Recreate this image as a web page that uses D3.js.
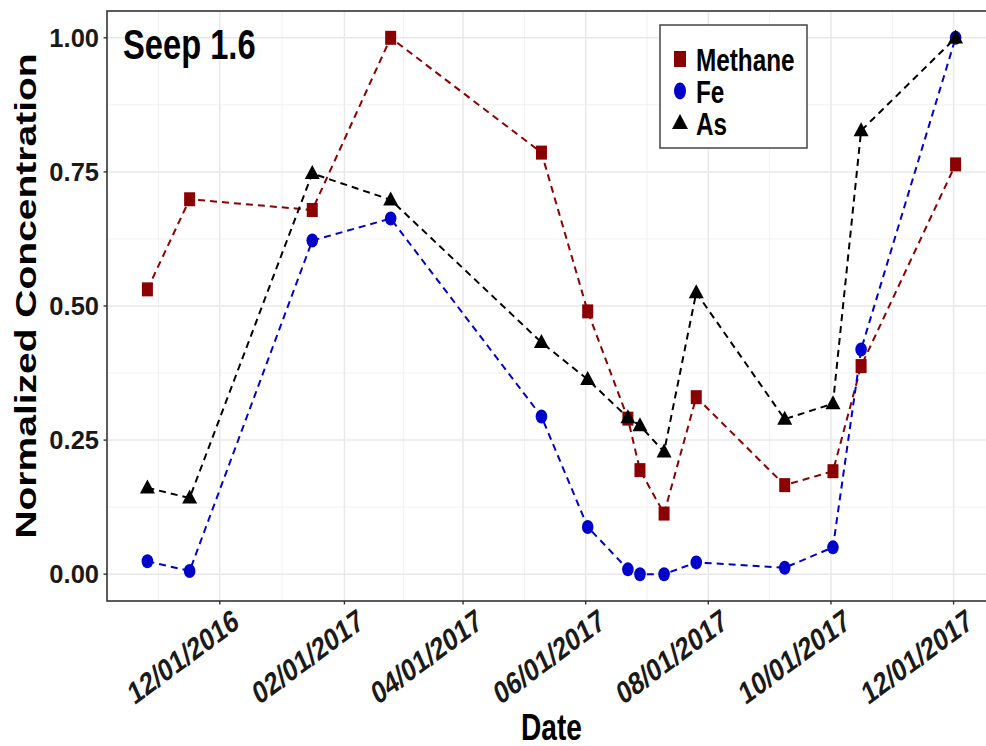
<!DOCTYPE html>
<html>
<head>
<meta charset="utf-8">
<script src="https://cdn.jsdelivr.net/npm/d3@7"></script>
<style>
  html, body { margin: 0; padding: 0; background: #fff; }
  text { font-family: "Liberation Sans", Arial, sans-serif; font-weight: bold; }
</style>
</head>
<body>
<svg id="chart" width="986" height="746"></svg>
<script>
// sampling dates and normalized values
const dates = ["2016-10-26", "2016-11-16", "2017-01-16", "2017-02-24", "2017-05-10",
    "2017-06-02", "2017-06-22", "2017-06-28", "2017-07-10", "2017-07-26",
    "2017-09-08", "2017-10-02", "2017-10-16", "2017-12-02"];
const methane = [0.531, 0.699, 0.679, 1.00, 0.786, 0.490, 0.290, 0.194, 0.113, 0.330, 0.166, 0.192, 0.388, 0.764];
const fe = [0.024, 0.006, 0.622, 0.663, 0.294, 0.088, 0.009, 0.000, 0.000, 0.022, 0.012, 0.050, 0.419, 1.00];
const as = [0.161, 0.142, 0.747, 0.698, 0.432, 0.363, 0.292, 0.277, 0.228, 0.525, 0.289, 0.318, 0.827, 1.00];
const yTicks = [0, 0.25, 0.5, 0.75, 1];
const seriesNames = ["Methane", "Fe", "As"];
const seriesColors = ["#8b0000", "#0000cd", "#000000"];

const width = 986;
const height = 746;
const panel = { left: 107, right: 996, top: 11, bottom: 601 };
const squish = 0.76; // the figure is compressed horizontally

const svg = d3.select("#chart");
const parse = d3.timeParse("%Y-%m-%d");
const when = dates.map(parse);

const series = [methane, fe, as].map((vals, i) => ({
    name: seriesNames[i],
    color: seriesColors[i],
    values: vals.map((v, j) => ({ date: when[j], v: v }))
}));

// ggplot-like 5% expansion on both axes
const ext = d3.extent(when);
const span = ext[1] - ext[0];
const x = d3.scaleTime()
    .domain([new Date(+ext[0] - 0.05 * span), new Date(+ext[1] + 0.05 * span)])
    .range([panel.left, panel.right]);
const y = d3.scaleLinear()
    .domain([-0.05, 1.05])
    .range([panel.bottom, panel.top]);

// breaks every two months on Dec, Feb, Apr, ...
const xTicks = d3.timeMonth.range(d3.timeMonth.offset(x.domain()[0], -2), d3.timeMonth.offset(x.domain()[1], 2))
    .filter(d => d.getMonth() % 2 === 1);
const inside = d => d >= x.domain()[0] && d <= x.domain()[1];
const xMajor = xTicks.filter(inside);
const xMinor = d3.pairs(xTicks).map(([a, b]) => new Date((+a + +b) / 2)).filter(inside);
const yMinor = d3.pairs(yTicks).map(([a, b]) => (a + b) / 2);

// rotate by deg, then squeeze x: written out as one matrix
function squeezed(px, py, deg, sx) {
    const k = sx || squish;
    const r = deg * Math.PI / 180;
    const a = k * Math.cos(r), b = Math.sin(r), c = -k * Math.sin(r), d = Math.cos(r);
    return `matrix(${a},${b},${c},${d},${px},${py})`;
}

function label(g, txt, px, py, size, anchor, rot, sx) {
    return g.append("text")
        .attr("transform", squeezed(px, py, rot || 0, sx))
        .attr("text-anchor", anchor)
        .attr("font-size", size)
        .text(txt);
}

// grid
const grid = svg.append("g");
grid.selectAll(".xmin").data(xMinor).enter().append("line")
    .attr("x1", d => x(d)).attr("x2", d => x(d))
    .attr("y1", panel.top).attr("y2", panel.bottom)
    .attr("stroke", "#ededed").attr("stroke-width", 0.8);
grid.selectAll(".ymin").data(yMinor).enter().append("line")
    .attr("x1", panel.left).attr("x2", panel.right)
    .attr("y1", d => y(d)).attr("y2", d => y(d))
    .attr("stroke", "#ededed").attr("stroke-width", 0.8);
grid.selectAll(".xmaj").data(xMajor).enter().append("line")
    .attr("x1", d => x(d)).attr("x2", d => x(d))
    .attr("y1", panel.top).attr("y2", panel.bottom)
    .attr("stroke", "#e8e8e8").attr("stroke-width", 1.5);
grid.selectAll(".ymaj").data(yTicks).enter().append("line")
    .attr("x1", panel.left).attr("x2", panel.right)
    .attr("y1", d => y(d)).attr("y2", d => y(d))
    .attr("stroke", "#e8e8e8").attr("stroke-width", 1.5);

// dashed lines first, then points
const line = d3.line().x(d => x(d.date)).y(d => y(d.v));
svg.append("g").selectAll("path").data(series).enter().append("path")
    .attr("d", d => line(d.values))
    .attr("fill", "none")
    .attr("stroke", d => d.color)
    .attr("stroke-width", 2)
    .attr("stroke-dasharray", "7,5");

function marker(g, name, color, big) {
    if (name === "Methane") {
        const w = big ? 12 : 11, h = big ? 16 : 14;
        g.append("rect").attr("x", -w / 2).attr("y", -h / 2).attr("width", w).attr("height", h).attr("fill", color);
    } else if (name === "Fe") {
        g.append("ellipse").attr("rx", big ? 6 : 5.8).attr("ry", big ? 8.5 : 7).attr("fill", color);
    } else {
        const w = big ? 8 : 7.5, h = big ? 15 : 14;
        g.append("path").attr("d", `M0,${-h * 0.6}L${w},${h * 0.4}L${-w},${h * 0.4}Z`).attr("fill", color);
    }
}

series.forEach(s => {
    svg.append("g").selectAll("g").data(s.values).enter().append("g")
        .attr("transform", d => `translate(${x(d.date)},${y(d.v)})`)
        .each(function () { marker(d3.select(this), s.name, s.color, false); });
});

// panel border
svg.append("rect")
    .attr("x", panel.left).attr("y", panel.top)
    .attr("width", panel.right - panel.left).attr("height", panel.bottom - panel.top)
    .attr("fill", "none").attr("stroke", "#333").attr("stroke-width", 1.6);

// y axis
const yAxis = svg.append("g");
yAxis.selectAll("line").data(yTicks).enter().append("line")
    .attr("x1", panel.left - 3.5).attr("x2", panel.left)
    .attr("y1", d => y(d)).attr("y2", d => y(d))
    .attr("stroke", "#333").attr("stroke-width", 1.4);
yAxis.selectAll("text").data(yTicks).enter().append("text")
    .attr("x", 99).attr("y", d => y(d) + 9)
    .attr("text-anchor", "end")
    .attr("font-size", 25.5)
    .attr("fill", "#1a1a1a")
    .text(d => d3.format(".2f")(d));

// x axis: labels turned 30 degrees (then squeezed), top-right end at the tick
const xAxis = svg.append("g");
xAxis.selectAll("line").data(xMajor).enter().append("line")
    .attr("x1", d => x(d)).attr("x2", d => x(d))
    .attr("y1", panel.bottom).attr("y2", panel.bottom + 3.5)
    .attr("stroke", "#333").attr("stroke-width", 1.4);
const fmt = d3.timeFormat("%m/%d/%Y");
xMajor.forEach(d => {
    label(xAxis, fmt(d), x(d) + 12, panel.bottom + 6, 31.5, "end", -30, 0.78)
        .attr("dy", "0.72em")
        .attr("fill", "#1a1a1a");
});

// titles
label(svg, "Date", (panel.left + panel.right) / 2, 740, 37, "middle");
label(svg, "Normalized Concentration", 36, 296, 39, "middle", -90);
label(svg, "Seep 1.6", 123, 59, 43, "start");

// legend
const legend = svg.append("g");
legend.append("rect")
    .attr("x", 660).attr("y", 25).attr("width", 147).attr("height", 123)
    .attr("fill", "#fff").attr("stroke", "#444").attr("stroke-width", 1.5);
series.forEach((s, i) => {
    const row = legend.append("g").attr("transform", `translate(680,${59 + i * 32})`);
    marker(row, s.name, s.color, true);
    label(row, s.name, 16, 11.5, 32, "start");
});
</script>
</body>
</html>
